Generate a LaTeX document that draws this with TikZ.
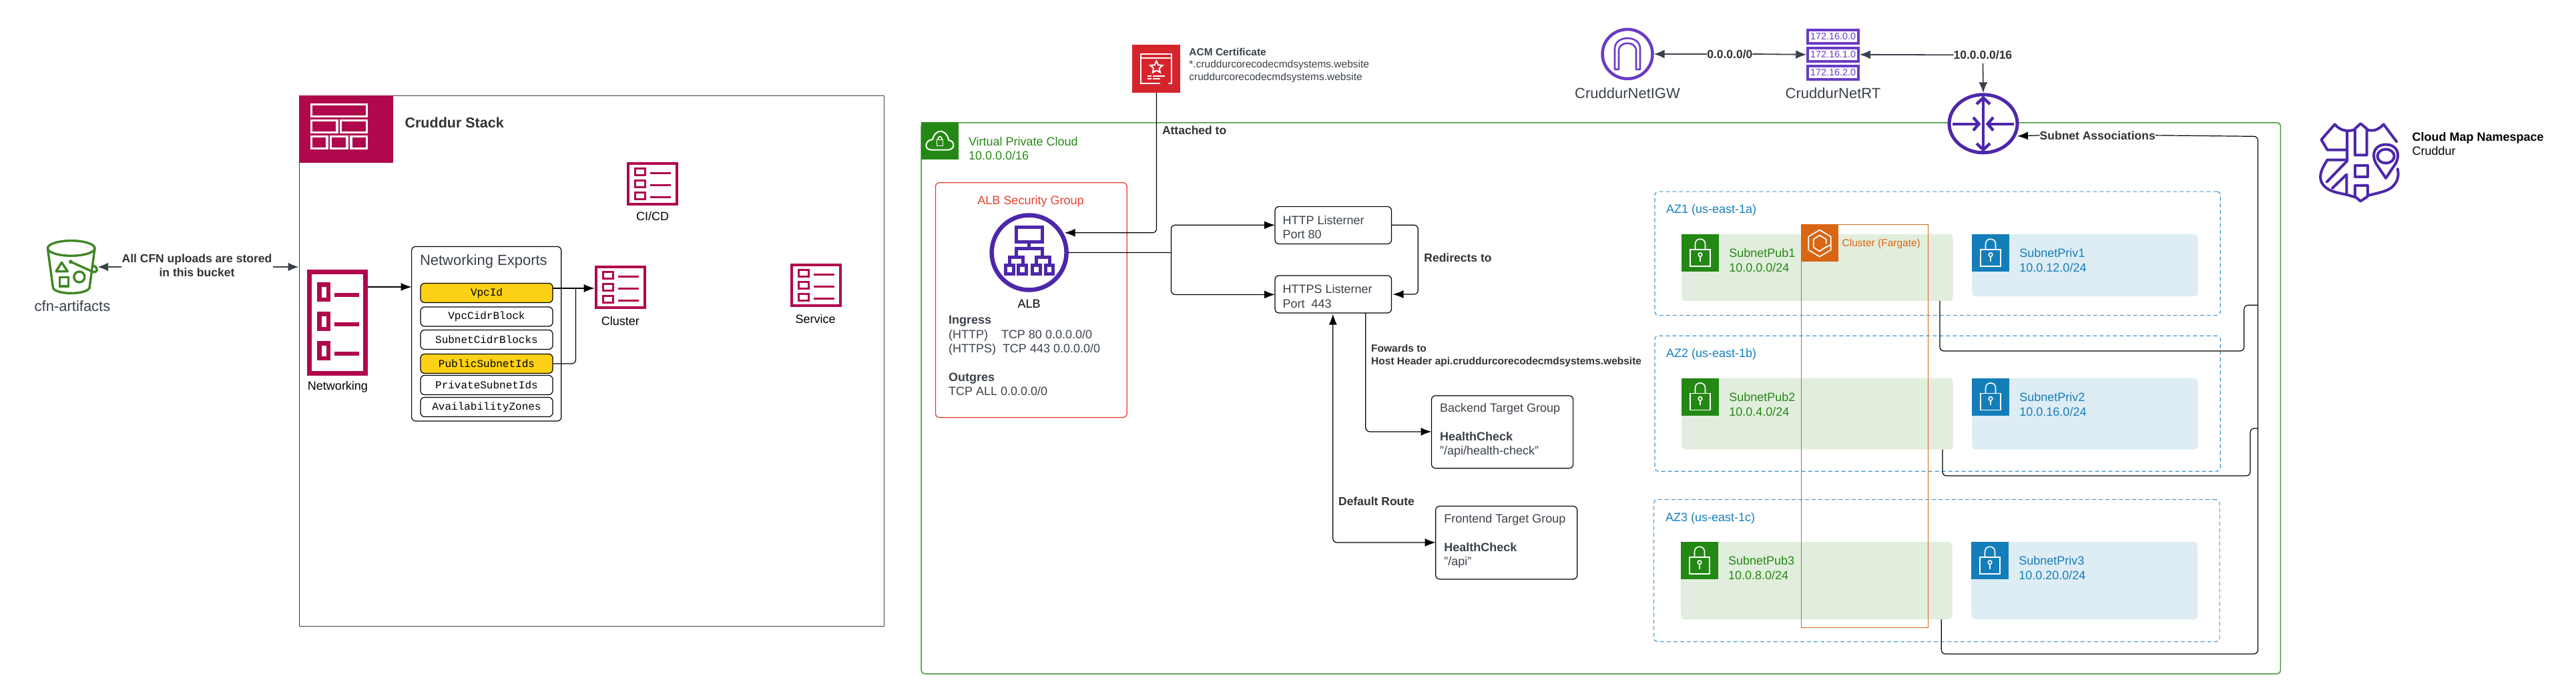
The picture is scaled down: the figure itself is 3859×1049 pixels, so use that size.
\documentclass[tikz,border=0pt]{standalone}
\usepackage{fontspec}
\setmainfont{Liberation Sans}
\newfontfamily\monof{Liberation Mono}
\usetikzlibrary{arrows.meta,shapes.geometric}
\definecolor{dk}{HTML}{3A414A}
\definecolor{lbl}{HTML}{333333}
\definecolor{pink}{HTML}{B0084D}
\definecolor{purp}{HTML}{4D27AA}
\definecolor{purl}{HTML}{693CC5}
\definecolor{grn}{HTML}{248814}
\definecolor{grnl}{HTML}{E2EEDD}
\definecolor{blu}{HTML}{147EBA}
\definecolor{blul}{HTML}{DEECF4}
\definecolor{azb}{HTML}{3F97CF}
\definecolor{org}{HTML}{D86613}
\definecolor{awsred}{HTML}{D6242D}
\definecolor{sgred}{HTML}{E7402F}
\definecolor{yel}{HTML}{FCD116}
\definecolor{bkt}{HTML}{3F8624}
\tikzset{
 txt/.style={inner sep=0,outer sep=0,text=dk,align=left},
 fa/.style={font=\fontsize{18}{21.3}\selectfont},
 fb/.style={font=\fontsize{22}{26}\selectfont},
 fc/.style={font=\fontsize{15.5}{18.8}\selectfont},
 bl/.style={font=\fontsize{17.5}{21}\selectfont\bfseries,text=lbl},
 bs/.style={font=\fontsize{15.5}{19}\selectfont\bfseries,text=lbl},
 conn/.style={draw=black,line width=1.2,rounded corners=6pt},
 tip/.style={-{Latex[length=16pt,width=12pt]}},
 tipb/.style={{Latex[length=16pt,width=12pt]}-{Latex[length=16pt,width=12pt]}},
 gconn/.style={draw=dk,line width=1.8,-{Latex[length=16pt,width=13pt]}},
 rbox/.style={draw=black,line width=1.2,rounded corners=6pt,fill=white,inner sep=0,outer sep=0,anchor=north west},
 pill/.style={draw=black,line width=1.2,rounded corners=6pt,fill=white,inner sep=0,anchor=center,minimum width=198pt,minimum height=29pt,font=\fontsize{16}{18}\monof},
 yp/.style={fill=yel},
 az/.style={draw=azb,line width=1.2,dashed,dash pattern=on 6pt off 4pt,rounded corners=5pt,inner sep=0,anchor=north west},
 subp/.style={fill=grnl,rounded corners=6pt,inner sep=0,anchor=north west},
 subq/.style={fill=blul,rounded corners=6pt,inner sep=0,anchor=north west},
 rtb/.style={draw=purl,line width=3.5,fill=white,inner sep=0,minimum width=76pt,minimum height=20pt,text=purl,font=\fontsize{14.4}{16}\selectfont},
}
% box of given corners
\newcommand{\bx}[6]{\node[#6,minimum width=\fpeval{#4-#2}pt,minimum height=\fpeval{#5-#3}pt] (#1) at (#2,#3) {};}
% small template icon
\newcommand{\smalltpl}[3]{%
 \node[draw=pink,line width=4,inner sep=0,minimum width=73pt,minimum height=61pt] (#1) at (#2+38.5,#3+32.5) {};
 \begin{scope}[shift={(#2,#3)},draw=pink,line width=3]
  \foreach \yy in {9,27.5,45.5}{\draw (13,\yy) rectangle (28,\yy+10);}
  \foreach \yy in {16,34,52}{\draw (35,\yy) -- (66,\yy);}
 \end{scope}}
% lock tile
\newcommand{\locktile}[4]{%
 \node[fill=#4,inner sep=0,minimum size=56pt,anchor=north west] (#1) at (#2,#3) {};
 \begin{scope}[shift={(#2,#3)},draw=white,line width=1.6]
  \draw (12.7,23) rectangle (43,48);
  \draw (20.5,23) -- (20.5,15) .. controls (20.5,5) and (35.5,5) .. (35.5,15) -- (35.5,23);
  \draw (28,31) circle (2.8);
  \draw (28,33.8) -- (28,41);
 \end{scope}}
\begin{document}
\begin{tikzpicture}[x=1pt,y=-1pt]
\useasboundingbox (0,0) rectangle (3859,1049);
\fill[white] (0,0) rectangle (3859,1049);

% ---------- bucket
\node[inner sep=0,minimum width=76pt,minimum height=80pt] (bucket) at (108,400) {};
\begin{scope}[draw=bkt,line width=3.4]
 \draw (106.7,372) ellipse (35.3 and 11.3);
 \draw (71.4,372) -- (79.5,431.7) .. controls (85,442) and (128,442) .. (134,431.7) -- (142,372);
 \draw[line join=round] (92.4,393.3) -- (84,406.7) -- (101.3,406.7) -- cycle;
 \draw (89.3,415.7) rectangle (102.7,429);
 \draw (118.8,415) ellipse (8 and 8);
 \draw (106,392.3) -- (138.4,407) .. controls (146,410) and (148,402) .. (141,398.5) -- (137,400);
 \fill[bkt] (106,392.3) circle (3);
\end{scope}
\node[txt,fb,anchor=center] (bucketL) at (108.5,459) {cfn-artifacts};
\node[txt,bl,align=center,font=\fontsize{17.5}{21}\selectfont\bfseries,anchor=center] (cfnL) at (295,397.5) {All CFN uploads are stored\\in this bucket};
\coordinate (cfnA) at (182,400);
\coordinate (cfnB) at (409,400);

% ---------- stack frame
\bx{stack}{447.5}{143}{1324}{938}{draw=dk,line width=1.3,inner sep=0,anchor=north west}
\draw[gconn] (cfnA) -- (bucket.east);
\draw[gconn] (cfnB) -- (stack.west |- cfnB);
\bx{stackI}{447.5}{143}{589}{243.7}{fill=pink,inner sep=0,anchor=north west}
\begin{scope}[draw=white,line width=3.4]
 \draw (466.5,156.5) rectangle (549.5,174.5);
 \draw (466.5,180.5) rectangle (505,198.5);
 \draw (510.5,180.5) rectangle (549.5,198.5);
 \draw (466.5,204.5) rectangle (490,222.5);
 \draw (495.5,204.5) rectangle (520,222.5);
 \draw (526,204.5) rectangle (549.5,222.5);
\end{scope}
\node[txt,fb,font=\fontsize{21.5}{26}\selectfont\bfseries,text=lbl,anchor=west] (stackL) at (606.6,184) {Cruddur Stack};

% networking template
\node[draw=pink,line width=7,inner sep=0,minimum width=84pt,minimum height=152pt] (netI) at (505.5,483.5) {};
\begin{scope}[draw=pink,line width=6.5]
 \draw (478.5,426.5) rectangle (492,449);
 \draw (478.5,470.5) rectangle (492,493);
 \draw (478.5,514.5) rectangle (492,537);
 \draw (501,442) -- (538,442);
 \draw (501,486) -- (538,486);
 \draw (501,530) -- (538,530);
\end{scope}
\node[txt,fa,text=black,anchor=center] (netL) at (506,580) {Networking};

% exports
\bx{exp}{616.6}{369.5}{840.8}{631}{rbox}
\node[txt,fb,anchor=west] (expL) at (629,391.5) {Networking Exports};
\node[pill,yp] (p1) at (729,439) {VpcId};
\node[pill] (p2) at (729,474.5) {VpcCidrBlock};
\node[pill] (p3) at (729,509) {SubnetCidrBlocks};
\node[pill,yp] (p4) at (729,545) {PublicSubnetIds};
\node[pill] (p5) at (729,577) {PrivateSubnetIds};
\node[pill] (p6) at (729,610) {AvailabilityZones};
\coordinate (netOut) at (551,430);
\coordinate (expIn) at (616.6,430);
\draw[conn,tip] (netOut) -- (expIn);

\smalltpl{clu}{890.7}{398}
\node[txt,fa,text=black,anchor=center] (cluL) at (929.4,481.5) {Cluster};
\smalltpl{cicd}{938.8}{243}
\node[txt,fa,text=black,anchor=center] (cicdL) at (977.5,324.5) {CI/CD};
\smalltpl{svc}{1183.5}{395}
\node[txt,fa,text=black,anchor=center] (svcL) at (1221.6,478) {Service};
\coordinate (vpcOut) at (828,432);
\coordinate (cluIn) at (890.7,432);
\draw[conn,tip] (vpcOut) -- (cluIn);
\draw[conn] (p4.east) -| (862.5,432);

% ---------- VPC
\bx{vpc}{1379.4}{183}{3415.6}{1009}{draw=grn!85!white,line width=1.5,rounded corners=5pt,inner sep=0,anchor=north west}
\bx{vpcI}{1379.4}{183}{1436}{239}{fill=grn,inner sep=0,anchor=north west}
\draw[white,line width=2] (1395,224.5) -- (1420,224.5) .. controls (1431,224.5) and (1431,211) .. (1421,210) .. controls (1420,200) and (1410,193) .. (1403,199) .. controls (1400,201) and (1398,205) .. (1397,209) .. controls (1385,210) and (1384,224.5) .. (1395,224.5);
\draw[white,line width=1.6] (1403.4,209.6) rectangle (1412.5,218.6);
\draw[white,line width=1.6] (1405,209.6) .. controls (1405,203) and (1411,203) .. (1411,209.6);
\node[txt,fa,text=grn,anchor=west] (vpcL) at (1451,222.5) {Virtual Private Cloud\\10.0.0.0/16};

% ACM
\bx{acm}{1696}{67}{1768}{139}{fill=awsred,inner sep=0,anchor=north west}
\begin{scope}[draw=white,line width=2]
 \draw (1738,124.7) -- (1708.5,124.7) -- (1708.5,81) -- (1755.4,81) -- (1755.4,124.7) -- (1750,124.7);
 \draw (1708.5,87) -- (1755.4,87);
 \draw (1719,113.7) -- (1725,113.7);\draw (1727,113.7) -- (1745,113.7);
 \draw (1719,118) -- (1725,118);\draw (1727,118) -- (1738,118);
\end{scope}
\node[star,star points=5,star point ratio=2.1,draw=white,line width=2,inner sep=0,minimum size=19pt] (acmS) at (1732.4,101) {};
\node[txt,fc,anchor=west] (acmL) at (1781.4,97.8) {\textbf{ACM Certificate}\\*.cruddurcorecodecmdsystems.website\\cruddurcorecodecmdsystems.website};

% SG
\bx{sg}{1400.8}{273}{1687.5}{625}{draw=sgred,line width=1.3,rounded corners=6pt,inner sep=0,anchor=north west}
\node[txt,fa,text=sgred,anchor=center] (sgL) at (1544,301.4) {ALB Security Group};
\node[ellipse,draw=purp,line width=6.5,fill=white,inner sep=0,minimum width=112pt,minimum height=112pt,outer sep=3pt] (alb) at (1541.6,378.5) {};
\begin{scope}[draw=purp,line width=5]
 \draw (1522,340.5) rectangle (1561,362);
 \draw (1541.6,362) -- (1541.6,372);
 \draw (1522,384) -- (1522,372) -- (1561,372) -- (1561,384);
 \draw (1512,395) -- (1512,385) -- (1532,385) -- (1532,395);
 \draw (1552,395) -- (1552,385) -- (1572,385) -- (1572,395);
 \draw (1506.5,397) rectangle (1518,410);
 \draw (1525,397) rectangle (1537,410);
 \draw (1546.5,397) rectangle (1558,410);
 \draw (1566,397) rectangle (1577.5,410);
\end{scope}
\node[txt,fa,text=black,anchor=center] (albL) at (1541.6,455.7) {ALB};
\node[txt,fa,anchor=north west] (sgT) at (1421,473.5) {\textbf{Ingress}\\(HTTP)\hspace{20pt}TCP 80 0.0.0.0/0\\(HTTPS)\hspace{10pt}TCP 443 0.0.0.0/0\\[21.3pt]\textbf{Outgres}\\TCP ALL 0.0.0.0/0};
\coordinate (acmDown) at (1732.5,139);
\coordinate (albIn) at (1594.7,348.8);
\draw[conn,tip] (acmDown) |- (albIn);
\node[txt,bl,anchor=west] (attL) at (1741,195) {Attached to};

% listeners
\bx{http}{1910}{309.6}{2084.5}{365.5}{rbox}
\bx{https}{1910}{412.9}{2084.5}{469}{rbox}
\node[txt,fa,anchor=west] (httpL) at (1921.7,340.5) {HTTP Listerner\\Port 80};
\node[txt,fa,anchor=west] (httpsL) at (1921.7,444) {HTTPS Listerner\\Port\hspace{5pt} 443};
\coordinate (branch) at (1754.4,378.6);
\coordinate (httpIn) at (1910,337.3);
\coordinate (httpsIn) at (1910,441.4);
\draw[conn] (alb.east) -- (branch);
\draw[conn,tip] (branch) |- (httpIn);
\draw[conn,tip] (branch) |- (httpsIn);
\coordinate (rdA) at (2084.5,337.3);
\coordinate (rdB) at (2086.5,441);
\draw[conn,tip] (rdA) -| (2124.3,441) -- (rdB);
\node[txt,bl,anchor=west] (rdL) at (2133.4,386.6) {Redirects to};

% target groups
\bx{be}{2144.5}{592.9}{2356.6}{701.8}{rbox}
\bx{fe}{2150.7}{758.5}{2362.7}{867.9}{rbox}
\node[txt,fa,anchor=west] (beL) at (2157,645) {Backend Target Group\\[21.3pt]\textbf{HealthCheck}\\"/api/health-check"};
\node[txt,fa,anchor=west] (feL) at (2163.3,811) {Frontend Target Group\\[21.3pt]\textbf{HealthCheck}\\"/api"};
\coordinate (fwOut) at (2045.8,469);
\coordinate (beIn) at (2144.5,646.9);
\draw[conn,tip] (fwOut) |- (beIn);
\node[txt,bs,anchor=west] (fwL) at (2054.2,532.5) {Fowards to\\Host Header api.cruddurcorecodecmdsystems.website};
\coordinate (dfA) at (1996.8,470.5);
\coordinate (dfB) at (2150.7,813);
\draw[conn,tipb] (dfA) |- (dfB);
\node[txt,bl,anchor=west] (dfL) at (2005.2,751) {Default Route};

% ---------- IGW and RT
\node[ellipse,draw=purl,line width=4.5,fill=white,inner sep=0,minimum width=75pt,minimum height=74pt,outer sep=2pt] (igw) at (2438,81) {};
\draw[purl,line width=2.6,line join=round] (2419,104) -- (2419,73) .. controls (2419,52) and (2457,52) .. (2457,73) -- (2457,104) -- (2451,104) -- (2451,76) .. controls (2451,61) and (2425,61) .. (2425,76) -- (2425,104) -- cycle;
\node[txt,fb,anchor=center] (igwL) at (2438,140) {CruddurNetIGW};
\node[rtb] (rt1) at (2746,55) {172.16.0.0};
\node[rtb] (rt2) at (2746,81.8) {172.16.1.0};
\node[rtb] (rt3) at (2746,109) {172.16.2.0};
\node[txt,fb,anchor=center] (rtL) at (2746,140) {CruddurNetRT};
\node[txt,bl,anchor=center] (igwrt) at (2591.3,81) {0.0.0.0/0};
\draw[gconn] (igwrt.west) -- (igw.east);
\draw[gconn] (igwrt.east) -- (rt2.west);
\node[txt,bl,anchor=center] (rtcidr) at (2970.4,82.3) {10.0.0.0/16};
\draw[gconn] (rtcidr.west) -- (rt2.east);

% ---------- AZ
\bx{az1}{2478.4}{286.5}{3325.7}{472}{az}
\bx{az2}{2478.4}{502.7}{3325.7}{705.6}{az}
\bx{az3}{2477}{748}{3324.5}{961}{az}
\node[txt,fa,text=blu,anchor=west] (az1L) at (2496,315.3) {AZ1 (us-east-1a)};
\node[txt,fa,text=blu,anchor=west] (az2L) at (2496,531) {AZ2 (us-east-1b)};
\node[txt,fa,text=blu,anchor=west] (az3L) at (2495,776.4) {AZ3 (us-east-1c)};
% subnets
\bx{pub1}{2519}{350.7}{2925.5}{450.7}{subp}
\bx{priv1}{2954}{350.7}{3292.4}{444}{subq}
\bx{pub2}{2519}{566.4}{2925.5}{673.5}{subp}
\bx{priv2}{2954}{566.4}{3292.4}{673.5}{subq}
\bx{pub3}{2518}{811.8}{2924.4}{927.9}{subp}
\bx{priv3}{2953}{811.8}{3291.8}{927.9}{subq}
\locktile{lk1}{2519}{350.7}{grn}
\locktile{lk2}{2519}{566.4}{grn}
\locktile{lk3}{2518}{811.8}{grn}
\locktile{lq1}{2954}{350.7}{blu}
\locktile{lq2}{2954}{566.4}{blu}
\locktile{lq3}{2953}{811.8}{blu}
\node[txt,fa,text=grn,anchor=west] (pub1L) at (2590.3,390) {SubnetPub1\\10.0.0.0/24};
\node[txt,fa,text=grn,anchor=west] (pub2L) at (2590.3,606) {SubnetPub2\\10.0.4.0/24};
\node[txt,fa,text=grn,anchor=west] (pub3L) at (2589,851) {SubnetPub3\\10.0.8.0/24};
\node[txt,fa,text=blu,anchor=west] (priv1L) at (3025.4,390) {SubnetPriv1\\10.0.12.0/24};
\node[txt,fa,text=blu,anchor=west] (priv2L) at (3025.4,606) {SubnetPriv2\\10.0.16.0/24};
\node[txt,fa,text=blu,anchor=west] (priv3L) at (3024.3,851) {SubnetPriv3\\10.0.20.0/24};
% fargate cluster
\bx{farg}{2697.7}{335.6}{2887.7}{940}{draw=org,line width=1.3,inner sep=0,anchor=north west}
\bx{fargI}{2697.7}{335.6}{2754}{391.8}{fill=org,inner sep=0,anchor=north west}
\begin{scope}[shift={(2697.7,335.6)},draw=white,line width=1.7,line join=round]
 \draw (28.2,9) -- (45,19) -- (45,39) -- (28.2,49) -- (11.5,39) -- (11.5,19) -- cycle;
 \draw (28.2,17) -- (38,23) -- (38,30);
 \draw (38,34) -- (28.2,41) -- (19,35) -- (19,23) -- (28.2,17);
 \draw (33,37.5) -- (45,31);
\end{scope}
\node[txt,fc,text=org,anchor=west] (fargL) at (2759.7,365.3) {Cluster (Fargate)};

% ---------- router
\node[ellipse,draw=purp,line width=5,fill=white,inner sep=0,minimum width=102pt,minimum height=87pt,outer sep=2.5pt] (router) at (2971,185.3) {};
\begin{scope}[draw=purp,line width=4.4]
 \draw (2971,148) -- (2971,223);
 \draw (2961,156) -- (2971,146.5) -- (2981,156);
 \draw (2961,215) -- (2971,224.5) -- (2981,215);
 \draw (2925,185.7) -- (2963,185.7);
 \draw (2956,176) -- (2964.5,185.7) -- (2956,195.4);
 \draw (3017,185.7) -- (2979,185.7);
 \draw (2986,176) -- (2977.5,185.7) -- (2986,195.4);
\end{scope}
\coordinate (rtdown) at (2970.4,95);
\draw[gconn] (rtdown) -- (router.north);
\node[txt,bl,anchor=center] (subA) at (3142.2,202.8) {Subnet Associations};
\coordinate (subIn) at (3022,204);
\draw[conn,tip] (subA.west) -- (subIn);
\coordinate (pub1O) at (2906,450.7);
\coordinate (pub2O) at (2910,673.5);
\coordinate (pub3O) at (2908.3,928);
\coordinate (busTop) at (3382.4,204.4);
\coordinate (busEnd) at (3382.4,980);
\coordinate (j1) at (3382.4,457.3);
\coordinate (j2) at (3382.4,642);
\draw[conn] (subA.east) -- (busTop) -- (busEnd) -- (2908.3,980) -- (pub3O);
\draw[conn] (j1) -- (3361.8,457.3) -- (3361.8,526) -- (2906,526) -- (pub1O);
\draw[conn] (j2) -- (3371,642) -- (3371,713) -- (2910,713) -- (pub2O);

% ---------- cloud map
\begin{scope}[shift={(3200,160)},x=0.4203pt,y=-0.5485pt,draw=purp,line width=4,line join=round,line cap=round]
 \draw (928,95) -- (882,48) .. controls (862,65) and (840,68) .. (822,62);
 \draw (780,62) .. controls (760,68) and (730,68) .. (708,48) -- (660,90) -- (682,118) -- (752,118);
 \draw (752,68) -- (752,145) -- (682,145) .. controls (660,170) and (650,190) .. (662,208) .. controls (680,232) and (720,235) .. (750,240) -- (750,185) -- (700,222);
 \draw (680,205) -- (752,148);
 \draw (780,60) -- (800,46) -- (822,60) -- (822,132) -- (780,132) -- cycle;
 \draw (780,160) rectangle (825,192);
 \draw (750,240) -- (780,247);
 \draw (780,215) -- (825,215) -- (825,245) -- (800,258) -- (780,245) -- cycle;
 \draw (825,243) .. controls (860,235) and (900,232) .. (918,215) .. controls (935,200) and (936,185) .. (932,170);
 \draw (890,195) -- (855,155) .. controls (835,125) and (855,103) .. (890,103) .. controls (925,103) and (945,125) .. (925,155) -- cycle;
 \draw (890,135) ellipse (30 and 19);
\end{scope}
\node[txt,fa,text=black,anchor=west] (cmL) at (3613.6,215.7) {\textbf{Cloud Map Namespace}\\Cruddur};
\end{tikzpicture}
\end{document}
